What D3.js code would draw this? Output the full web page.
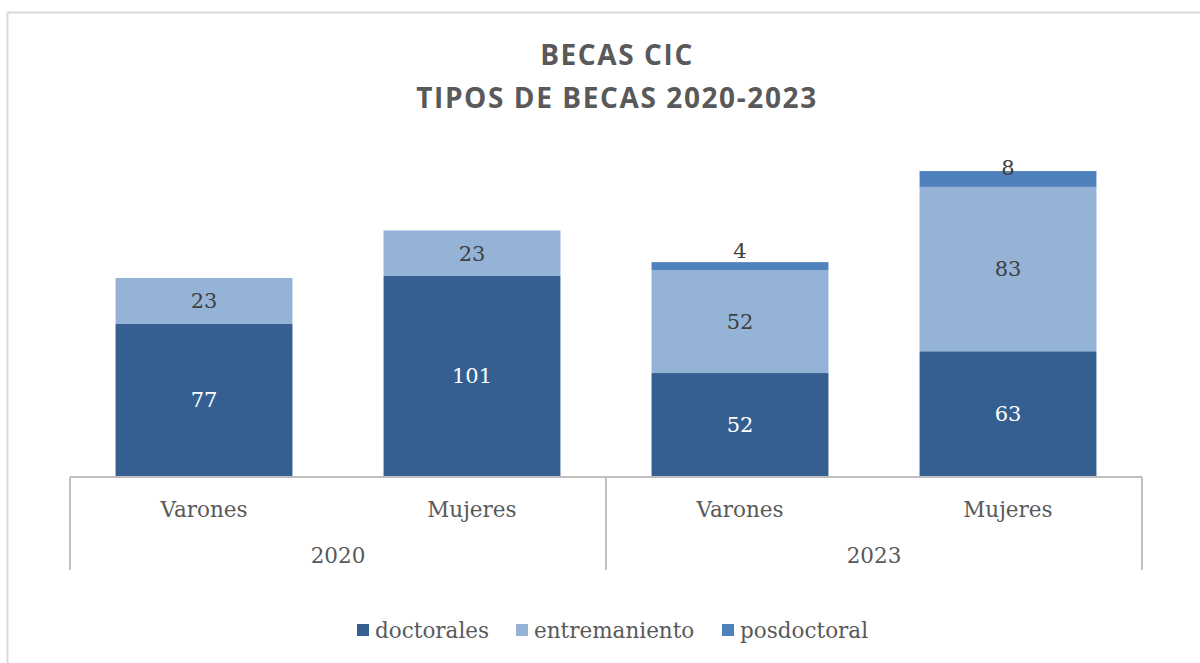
<!DOCTYPE html>
<html>
<head>
<meta charset="utf-8">
<script src="https://cdn.jsdelivr.net/npm/d3@7"></script>
<style>
  body { margin: 0; background: #fff; }
  svg text { font-family: "DejaVu Serif", serif; }
</style>
</head>
<body>
<div id="chart"></div>
<script>
const years = ["2020", "2023"];
const genders = ["Varones", "Mujeres"];
const seriesNames = ["doctorales", "entremaniento", "posdoctoral"];
const doctorales = [77, 101, 52, 63];
const entremaniento = [23, 23, 52, 83];
const posdoctoral = [0, 0, 4, 8];
const colors = ["#355f91", "#95b3d7", "#4f81bd"];

const W = 1200, H = 663;
const svg = d3.select('#chart').append('svg')
    .attr('width', W).attr('height', H);

// outer frame
svg.append('rect')
    .attr('x', 7.5).attr('y', 12.5)
    .attr('width', 1220).attr('height', 700)
    .attr('fill', 'none').attr('stroke', '#d9d9d9').attr('stroke-width', 2);

// title
const title = svg.append('text')
    .attr('text-anchor', 'middle')
    .style('font-family', '"Open Sans", sans-serif')
    .style('font-weight', 'bold')
    .style('font-size', '28px')
    .style('letter-spacing', '1.6px')
    .attr('fill', '#595959');
title.append('tspan').attr('x', 617).attr('y', 65).text('BECAS CIC');
title.append('tspan').attr('x', 617).attr('y', 108).text('TIPOS DE BECAS 2020-2023');

const rows = [];
years.forEach((y, i) => genders.forEach((g, j) => {
    const k = i * 2 + j;
    rows.push({key: y + '-' + g, year: y, gender: g,
        doctorales: doctorales[k], entremaniento: entremaniento[k], posdoctoral: posdoctoral[k]});
}));

const left = 70, right = 1142, base = 476;
const x = d3.scaleBand().domain(rows.map(d => d.key)).range([left, right]).paddingInner(0.34).paddingOuter(0.17);
const y = d3.scaleLinear().domain([0, 160]).range([base, base - 316.8]);

const stacked = d3.stack().keys(seriesNames)(rows);

const groups = svg.selectAll('g.series').data(stacked).enter().append('g')
    .attr('class', 'series')
    .attr('fill', (d, i) => colors[i]);

groups.selectAll('rect').data(d => d).enter().append('rect')
    .attr('x', d => x(d.data.key))
    .attr('width', x.bandwidth())
    .attr('y', d => y(d[1]))
    .attr('height', d => y(d[0]) - y(d[1]));

// data labels (small posdoctoral segments get their label pushed upward)
const smallOffset = {"2023-Varones": 12, "2023-Mujeres": 3};
stacked.forEach((s, i) => {
    svg.append('g').selectAll('text').data(s.filter(d => d[1] - d[0] > 0)).enter().append('text')
        .attr('x', d => x(d.data.key) + x.bandwidth() / 2)
        .attr('y', d => {
            if (s.key === 'posdoctoral') return y(d[1]) - smallOffset[d.data.key];
            return (y(d[0]) + y(d[1])) / 2;
        })
        .attr('dy', '0.35em')
        .attr('text-anchor', 'middle')
        .style('font-size', '21px')
        .attr('fill', i === 0 ? '#ffffff' : '#404040')
        .text(d => d[1] - d[0]);
});

// category axis box
const axis = svg.append('g').attr('stroke', '#bfbfbf').attr('stroke-width', 2).attr('fill', 'none');
axis.append('line').attr('x1', left).attr('x2', right).attr('y1', base + 1).attr('y2', base + 1);
const yearW = (right - left) / years.length;
d3.range(years.length + 1).forEach(i => {
    axis.append('line').attr('x1', left + i * yearW).attr('x2', left + i * yearW)
        .attr('y1', base + 1).attr('y2', 570);
});

svg.append('g').selectAll('text').data(rows).enter().append('text')
    .attr('x', d => x(d.key) + x.bandwidth() / 2)
    .attr('y', 509).attr('dy', '0.35em')
    .attr('text-anchor', 'middle')
    .style('font-size', '21.5px').attr('fill', '#595959')
    .text(d => d.gender);

svg.append('g').selectAll('text').data(years).enter().append('text')
    .attr('x', (d, i) => left + (i + 0.5) * yearW)
    .attr('y', 555).attr('dy', '0.35em')
    .attr('text-anchor', 'middle')
    .style('font-size', '21.5px').attr('fill', '#595959')
    .text(d => d);

// legend
const legendX = [357, 516, 722];
const legend = svg.append('g').selectAll('g').data(seriesNames).enter().append('g')
    .attr('transform', (d, i) => `translate(${legendX[i]},630)`);
legend.append('rect').attr('x', 0).attr('y', -6).attr('width', 12).attr('height', 12)
    .attr('fill', (d, i) => colors[i]);
legend.append('text').attr('x', 18).attr('dy', '0.35em')
    .style('font-size', '21.5px').attr('fill', '#595959')
    .text(d => d);
</script>
</body>
</html>
